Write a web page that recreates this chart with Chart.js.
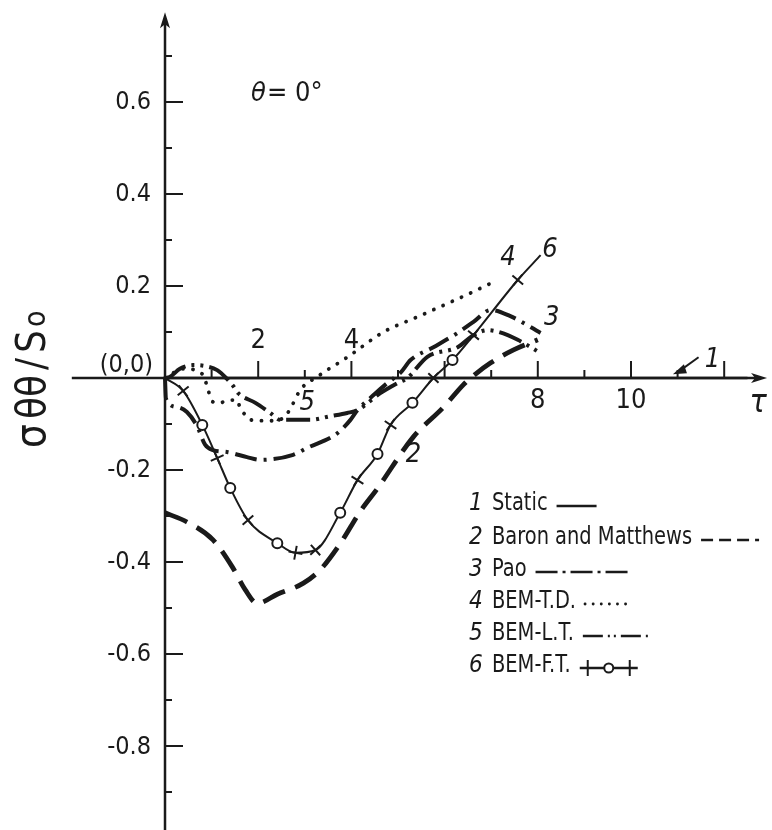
<!DOCTYPE html>
<html lang="en">
<head>
<meta charset="UTF-8">
<title>sigma theta theta / S0 at theta = 0</title>
<script src="https://cdn.jsdelivr.net/npm/chart.js@4.4.1/dist/chart.umd.min.js"></script>
<style>
  html, body { margin: 0; padding: 0; background: #fff; }
  #wrap { width: 772px; height: 830px; }
</style>
</head>
<body>
<div id="wrap"><canvas id="stressChart"></canvas></div>
<script>
// values: tau on x, sigma_theta_theta / S0 on y
const tau1 = [0, 12.5];
const sig1 = [0, 0];

const tau2 = [0, 0.47, 1.03, 1.44, 1.72, 1.98, 2.41, 2.97, 3.33, 3.76, 4.19, 4.56, 5.33, 5.98, 6.4, 6.56, 6.99, 7.48, 8.0];
const sig2 = [-0.293, -0.313, -0.352, -0.41, -0.46, -0.49, -0.47, -0.446, -0.417, -0.36, -0.29, -0.24, -0.128, -0.063, -0.015, 0, 0.033, 0.061, 0.083];

const tau3 = [0, 0.02, 0.26, 0.47, 0.69, 0.86, 1.03, 1.33, 1.76, 2.04, 2.75, 3.05, 3.7, 3.98, 4.13, 4.5, 4.77, 5.05, 5.27, 5.76, 6.28, 6.62, 6.99, 7.4, 8.06];
const sig3 = [0, -0.045, -0.063, -0.074, -0.105, -0.145, -0.157, -0.161, -0.172, -0.178, -0.167, -0.152, -0.12, -0.091, -0.07, -0.035, -0.011, 0.011, 0.039, 0.067, 0.098, 0.122, 0.148, 0.135, 0.098];

const tau4 = [0, 0.4, 0.82, 0.92, 1.03, 1.18, 1.35, 1.55, 1.61, 1.72, 1.83, 2.26, 2.54, 2.7, 2.86, 3.02, 3.16, 3.33, 3.55, 3.76, 3.98, 4.69, 5.42, 6.13, 6.56, 7.14];
const sig4 = [0, 0.02, 0.007, -0.025, -0.052, -0.054, -0.048, -0.048, -0.065, -0.08, -0.091, -0.093, -0.087, -0.065, -0.033, -0.013, -0.004, 0.007, 0.022, 0.035, 0.05, 0.1, 0.133, 0.165, 0.185, 0.213];

const tau5 = [0, 0.1, 0.32, 0.6, 0.86, 1.12, 1.33, 1.46, 1.57, 1.94, 2.26, 2.47, 2.8, 3.12, 3.55, 3.91, 4.13, 4.62, 4.99, 5.2, 5.63, 6.28, 6.62, 6.92, 7.16, 7.57, 8.06];
const sig5 = [0, 0.002, 0.02, 0.028, 0.026, 0.017, -0.002, -0.017, -0.033, -0.054, -0.076, -0.091, -0.091, -0.091, -0.083, -0.076, -0.07, -0.033, -0.011, 0, 0.046, 0.067, 0.093, 0.104, 0.1, 0.083, 0.054];

const tau6 = [0, 0.39, 0.8, 1.12, 1.4, 1.78, 2.41, 2.8, 3.23, 3.76, 4.13, 4.56, 4.84, 5.31, 5.76, 6.17, 6.62, 7.57, 8.06];
const sig6 = [0, -0.028, -0.102, -0.174, -0.239, -0.309, -0.359, -0.38, -0.374, -0.293, -0.222, -0.165, -0.102, -0.054, 0, 0.039, 0.093, 0.213, 0.267];

const curveNumbers = ['1', '2', '3', '4', '5', '6'];
const legendNames = ['Static', 'Baron and Matthews', 'Pao', 'BEM-T.D.', 'BEM-L.T.', 'BEM-F.T.'];

const yMajorTicks = [0.6, 0.4, 0.2, -0.2, -0.4, -0.6, -0.8];
const yMinorTicks = [0.7, 0.5, 0.3, 0.1, -0.1, -0.3, -0.5, -0.7, -0.9];
const xTicks = [1, 2, 3, 4, 5, 6, 7, 8, 9, 10, 11, 12];
const xTickLabels = [2, 4, 8, 10];

const INK = '#1a1a1a';
const FONT = "'DejaVu Sans Condensed', 'Liberation Sans', sans-serif";

// marker style for curve 6 (crosses and open circles along the line)
const marks6 = ['circle', 'cross', 'circle', 'cross', 'circle', 'cross', 'circle', 'cross', 'cross',
  'circle', 'cross', 'circle', 'cross', 'circle', 'cross', 'circle', 'cross', 'cross', 'circle'];
const radius6 = marks6.map((m, i) => (i === 0 || i === marks6.length - 1) ? 0 : (m === 'cross' ? 7 : 5));

// dash patterns of the short legend samples
const legendDash = [[], [12, 6], [22, 5, 3, 5], [0.1, 8], [20, 5, 2, 4, 2, 5], []];
const sampleLen = [40, 58, 96, 48, 68, 58];

function pts(xs, ys) {
  return xs.map((v, i) => ({ x: v, y: ys[i] }));
}

function lineRotation(c) {
  const d = c.dataset.data, i = c.dataIndex;
  const sx = c.chart.scales.x, sy = c.chart.scales.y;
  if (!sx || !sy || !d.length) return 0;
  const a = d[Math.max(i - 1, 0)], b = d[Math.min(i + 1, d.length - 1)];
  const dx = sx.getPixelForValue(b.x) - sx.getPixelForValue(a.x);
  const dy = sy.getPixelForValue(b.y) - sy.getPixelForValue(a.y);
  return Math.atan2(dy, dx) * 180 / Math.PI;
}

const base = {
  borderColor: INK,
  backgroundColor: INK,
  pointRadius: 0,
  fill: false,
  cubicInterpolationMode: 'monotone'
};

const datasets = [
  Object.assign({}, base, { label: legendNames[0], data: pts(tau1, sig1), borderWidth: 2.5 }),
  Object.assign({}, base, { label: legendNames[1], data: pts(tau2, sig2), borderWidth: 4.8, borderDash: [24, 11] }),
  Object.assign({}, base, { label: legendNames[2], data: pts(tau3, sig3), borderWidth: 4, borderDash: [22, 7, 3, 7] }),
  Object.assign({}, base, { label: legendNames[3], data: pts(tau4, sig4), borderWidth: 3.8, borderDash: [0.1, 10], borderCapStyle: 'round' }),
  Object.assign({}, base, { label: legendNames[4], data: pts(tau5, sig5), borderWidth: 4, borderDash: [24, 6, 3, 6, 3, 6] }),
  Object.assign({}, base, {
    label: legendNames[5], data: pts(tau6, sig6), borderWidth: 2,
    pointStyle: marks6, pointRadius: radius6, pointBorderWidth: 2,
    pointBackgroundColor: '#fff', pointBorderColor: INK, pointRotation: lineRotation
  })
];

const axesPlugin = {
  id: 'crossAxes',
  beforeDatasetsDraw(chart) {
    const { ctx, scales: { x, y } } = chart;
    const x0 = x.getPixelForValue(0), y0 = y.getPixelForValue(0);
    ctx.save();
    ctx.strokeStyle = INK;
    ctx.fillStyle = INK;
    ctx.lineWidth = 2.5;

    // horizontal axis with arrow
    const xEnd = x.getPixelForValue(12.92);
    ctx.beginPath();
    ctx.moveTo(x.getPixelForValue(-2), y0);
    ctx.lineTo(xEnd - 6, y0);
    ctx.stroke();
    ctx.beginPath();
    ctx.moveTo(xEnd, y0);
    ctx.lineTo(xEnd - 16, y0 - 5);
    ctx.lineTo(xEnd - 12, y0);
    ctx.lineTo(xEnd - 16, y0 + 5);
    ctx.closePath();
    ctx.fill();

    // vertical axis with arrow
    const yTop = y.getPixelForValue(0.795);
    ctx.beginPath();
    ctx.moveTo(x0, y.getPixelForValue(-0.99));
    ctx.lineTo(x0, yTop + 6);
    ctx.stroke();
    ctx.beginPath();
    ctx.moveTo(x0, yTop);
    ctx.lineTo(x0 - 5, yTop + 16);
    ctx.lineTo(x0, yTop + 12);
    ctx.lineTo(x0 + 5, yTop + 16);
    ctx.closePath();
    ctx.fill();

    // ticks
    ctx.lineWidth = 2;
    yMajorTicks.forEach(v => {
      const py = y.getPixelForValue(v);
      ctx.beginPath(); ctx.moveTo(x0, py); ctx.lineTo(x0 + 18, py); ctx.stroke();
    });
    yMinorTicks.forEach(v => {
      const py = y.getPixelForValue(v);
      ctx.beginPath(); ctx.moveTo(x0, py); ctx.lineTo(x0 + 7, py); ctx.stroke();
    });
    xTicks.forEach(v => {
      const px = x.getPixelForValue(v);
      const len = v % 2 === 0 ? 17 : 8;
      ctx.beginPath(); ctx.moveTo(px, y0); ctx.lineTo(px, y0 - len); ctx.stroke();
    });

    // tick labels
    ctx.font = '25px ' + FONT;
    ctx.textAlign = 'right';
    ctx.textBaseline = 'middle';
    yMajorTicks.forEach(v => {
      ctx.fillText(v < 0 ? '-' + Math.abs(v).toFixed(1) : v.toFixed(1), x0 - 14, y.getPixelForValue(v) + 1);
    });
    ctx.font = '27px ' + FONT;
    ctx.textAlign = 'center';
    xTickLabels.forEach(v => {
      const px = x.getPixelForValue(v);
      // the two small labels sit above the axis, the others below it
      ctx.fillText(String(v), px, v < 6 ? y0 - 37 : y0 + 23);
    });
    // axis name at the arrow tip
    ctx.font = 'italic 32px ' + FONT;
    ctx.fillText('τ', xEnd - 9, y0 + 26);

    ctx.font = '25px ' + FONT;
    ctx.textAlign = 'right';
    ctx.textBaseline = 'alphabetic';
    ctx.fillText('(0,0)', x0 - 12, y0 - 6);
    ctx.restore();
  }
};

const notesPlugin = {
  id: 'notes',
  afterDatasetsDraw(chart) {
    const { ctx, scales: { x, y } } = chart;
    const P = (tx, ty) => [x.getPixelForValue(tx), y.getPixelForValue(ty)];
    ctx.save();
    ctx.fillStyle = INK;
    ctx.strokeStyle = INK;

    // curve numbers next to the lines
    ctx.font = 'italic 27px ' + FONT;
    ctx.textAlign = 'center';
    ctx.textBaseline = 'middle';
    const spots = [[11.75, 0.04], [5.33, -0.167], [8.3, 0.13], [7.36, 0.26], [3.05, -0.054], [8.26, 0.278]];
    spots.forEach((s, i) => {
      const [px, py] = P(s[0], s[1]);
      ctx.fillText(curveNumbers[i], px, py);
    });
    // arrow from label 1 to the static line
    const [ax, ay] = P(11.45, 0.045);
    const [bx, by] = P(10.9, 0.008);
    ctx.lineWidth = 2;
    ctx.beginPath(); ctx.moveTo(ax, ay); ctx.lineTo(bx + 6, by - 3); ctx.stroke();
    ctx.beginPath();
    ctx.moveTo(bx, by);
    ctx.lineTo(bx + 11, by - 10);
    ctx.lineTo(bx + 14, by - 1);
    ctx.closePath();
    ctx.fill();

    // theta note
    ctx.font = 'italic 27px ' + FONT;
    ctx.textAlign = 'left';
    ctx.textBaseline = 'alphabetic';
    ctx.fillText('θ', 251, 101);
    ctx.font = '27px ' + FONT;
    ctx.fillText('= 0°', 267, 101);

    // legend
    const rowY = [503, 537, 569, 601, 633, 665];
    chart.data.datasets.forEach((ds, i) => {
      const ty = rowY[i];
      ctx.textAlign = 'left';
      ctx.textBaseline = 'middle';
      ctx.font = 'italic 24px ' + FONT;
      ctx.fillText(curveNumbers[i], 469, ty + 1);
      ctx.font = '24px ' + FONT;
      const w = ctx.measureText(legendNames[i]).width * 0.9;
      ctx.save();
      ctx.translate(492, ty + 1);
      ctx.scale(0.9, 1);
      ctx.fillText(legendNames[i], 0, 0);
      ctx.restore();
      const sx = 492 + w + 9;
      ctx.save();
      ctx.lineWidth = i === 3 ? 2.8 : 2.4;
      ctx.lineCap = i === 3 ? 'round' : 'butt';
      ctx.setLineDash(legendDash[i]);
      ctx.beginPath(); ctx.moveTo(sx, ty + 3); ctx.lineTo(sx + sampleLen[i], ty + 3); ctx.stroke();
      ctx.restore();
      if (i === 5) {
        ctx.lineWidth = 2;
        [sx + 8, sx + sampleLen[i] - 8].forEach(cx => {
          ctx.beginPath(); ctx.moveTo(cx, ty - 5); ctx.lineTo(cx, ty + 11); ctx.stroke();
        });
        ctx.beginPath();
        ctx.arc(sx + sampleLen[i] / 2, ty + 3, 4.5, 0, Math.PI * 2);
        ctx.fillStyle = '#fff'; ctx.fill(); ctx.stroke();
        ctx.fillStyle = INK;
      }
    });

    // vertical axis title, read bottom to top
    ctx.save();
    ctx.translate(45, 448);
    ctx.rotate(-Math.PI / 2);
    ctx.textAlign = 'left';
    ctx.textBaseline = 'alphabetic';
    let cx = 0;
    const pieces = [['σ', 42, 5], ['θθ', 40, 5], ['/', 40, 5], ['S', 40, 3], ['o', 30, 0]];
    pieces.forEach(p => {
      ctx.font = p[1] + 'px ' + FONT;
      ctx.fillText(p[0], cx, 0);
      cx += ctx.measureText(p[0]).width + p[2];
    });
    ctx.restore();
    ctx.restore();
  }
};

new Chart(document.getElementById('stressChart'), {
  type: 'line',
  data: { datasets },
  options: {
    responsive: true,
    maintainAspectRatio: false,
    animation: false,
    layout: { padding: 0 },
    plugins: { legend: { display: false }, tooltip: { enabled: false } },
    scales: {
      x: { type: 'linear', min: -3.541, max: 13.026, display: false },
      y: { type: 'linear', min: -0.9826, max: 0.8217, display: false }
    }
  },
  plugins: [axesPlugin, notesPlugin]
});
</script>
</body>
</html>
